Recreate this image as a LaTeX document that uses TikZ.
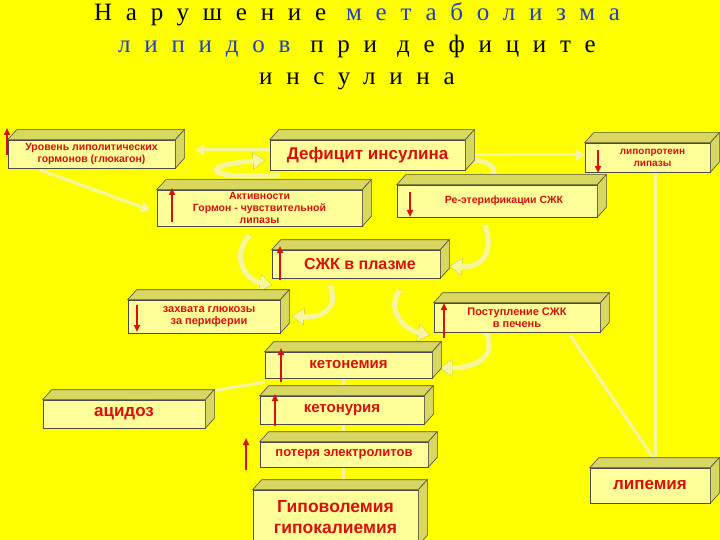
\documentclass[tikz,border=0pt]{standalone}
\usepackage{fontspec}
\setmainfont{Liberation Serif}
\newfontfamily\bsans{Liberation Sans}
\usetikzlibrary{arrows.meta}
\definecolor{bg}{HTML}{FFFF00}
\definecolor{face}{HTML}{FFFF99}
\definecolor{side}{HTML}{D8D860}
\definecolor{txt}{HTML}{D81010}
\definecolor{pale}{HTML}{F6F6A0}
\definecolor{tblue}{HTML}{2040C0}
\tikzset{
 bx/.style={draw=black!70,fill=face,line width=0.6pt,inner sep=1pt,align=center,text=txt,font=\bsans\bfseries},
 link/.style={draw=pale,line width=3pt,-{Triangle[length=9pt,width=11pt]}},
 uarr/.style={line width=3pt,draw=olive!60!black,postaction={draw=pale,line width=5pt},-{Triangle[length=12pt,width=16pt]}},
 rarr/.style={draw=txt,line width=1.8pt,-{Triangle[length=7pt,width=6pt]}},
}
\newcommand{\dbox}[7]{%
 \node[bx,minimum width=#4-#2,minimum height=#5-#3,font=\bsans\bfseries#7] (#1) at ({(#2+#4)/2},{(#3+#5)/2}) {#6};
 \filldraw[draw=black!70,fill=side,line width=0.6pt] (#1.north west) -- ++(9,-10) -- ([shift={(9,-10)}]#1.north east) -- (#1.north east) -- cycle;
 \filldraw[draw=black!70,fill=side,line width=0.6pt] (#1.north east) -- ++(9,-10) -- ([shift={(9,-10)}]#1.south east) -- (#1.south east) -- cycle;
}
\begin{document}
\begin{tikzpicture}[x=1pt,y=-1pt]
\fill[bg] (0,0) rectangle (720,540);
\useasboundingbox (0,0) rectangle (720,540);
% title
\node[font=\addfontfeature{LetterSpace=55}\fontsize{25}{32}\selectfont,align=center] (title) at (357,46)
 {Нарушение \textcolor{tblue}{метаболизма}\\ \textcolor{tblue}{липидов} при дефиците\\ инсулина};
% connectors (behind)
\draw[link] (270,150) -- (195,150);
\draw[link] (475,155) -- (585,155);
\draw[link] (40,170) -- (150,210);
\draw[link] (655,172) -- (655,468);
\draw[link] (570,335) -- (660,468);
\draw[link] (265,382) -- (130,405);
\draw[link] (343,378) -- (343,396);
\draw[link] (343,424) -- (343,442);
\draw[link] (343,467) -- (343,490);
% U arrows
\draw[uarr] (250,235) .. controls (230,255) and (245,280) .. (272,285);
\draw[uarr] (400,290) .. controls (385,310) and (405,330) .. (430,335);
\draw[uarr] (485,225) .. controls (495,255) and (480,268) .. (450,266);
\draw[uarr] (330,285) .. controls (340,310) and (320,318) .. (292,316);
\draw[uarr] (485,330) .. controls (500,360) and (470,368) .. (440,368);
\draw[uarr] (280,175) .. controls (200,180) and (200,165) .. (265,160);
\draw[uarr] (470,160) .. controls (500,160) and (500,180) .. (470,182);
% boxes
\dbox{lev}{8}{140}{175}{168}{Уровень липолитических\\гормонов (глюкагон)}{\fontsize{10.5}{12}\selectfont}
\dbox{def}{270}{140}{465}{170}{Дефицит инсулина}{\fontsize{17}{19}\selectfont}
\dbox{lpl}{585}{143}{710}{172}{\hspace*{10pt}липопротеин\\\hspace*{10pt}липазы}{\fontsize{10}{12}\selectfont}
\dbox{act}{157}{190}{362}{226}{Активности\\Гормон - чувствительной\\липазы}{\fontsize{10.5}{12}\selectfont}
\dbox{reet}{397}{185}{597}{217}{\hspace*{14pt}Ре-этерификации СЖК}{\fontsize{10.5}{12}\selectfont}
\dbox{szk}{272}{250}{440}{278}{\hspace*{8pt}СЖК в плазме}{\fontsize{16}{18}\selectfont}
\dbox{zah}{128}{300}{280}{333}{\hspace*{10pt}захвата глюкозы\\\hspace*{10pt}за периферии}{\fontsize{11}{12.5}\selectfont}
\dbox{post}{434}{303}{600}{332}{Поступление СЖК\\в печень}{\fontsize{11}{12.5}\selectfont}
\dbox{ktn}{265}{352}{432}{378}{кетонемия}{\fontsize{15}{17}\selectfont}
\dbox{acd}{43}{400}{205}{428}{ацидоз}{\fontsize{17}{19}\selectfont}
\dbox{ktu}{260}{396}{424}{424}{кетонурия}{\fontsize{15}{17}\selectfont}
\dbox{pot}{260}{442}{428}{467}{потеря электролитов}{\fontsize{13}{15}\selectfont}
\dbox{gip}{253}{490}{418}{545}{Гиповолемия\\гипокалиемия}{\fontsize{17.5}{21}\selectfont}
\dbox{lip}{590}{468}{710}{503}{липемия}{\fontsize{17}{19}\selectfont}
% red arrows
\draw[rarr] (7,155) -- (7,128);
\draw[rarr] (598,150) -- (598,173);
\draw[rarr] (172,222) -- (172,188);
\draw[rarr] (410,192) -- (410,217);
\draw[rarr] (280,280) -- (280,246);
\draw[rarr] (137,305) -- (137,332);
\draw[rarr] (444,338) -- (444,303);
\draw[rarr] (281,382) -- (281,348);
\draw[rarr] (275,426) -- (275,394);
\draw[rarr] (246,470) -- (246,438);
\end{tikzpicture}
\end{document}
